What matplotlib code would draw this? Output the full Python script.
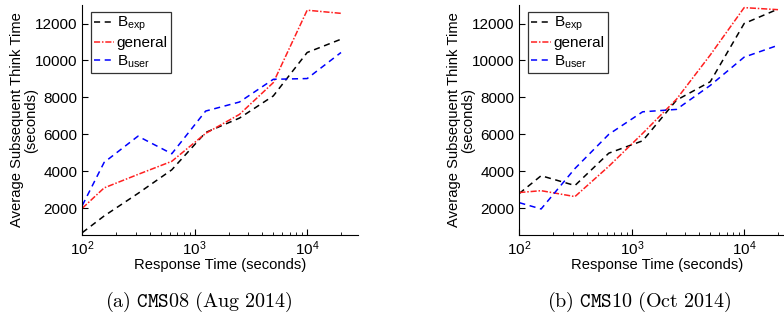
import numpy as np
import matplotlib
matplotlib.use('Agg')
import matplotlib.pyplot as plt

plt.rcParams['font.family'] = ['Liberation Sans', 'DejaVu Sans']
plt.rcParams['mathtext.fontset'] = 'custom'
plt.rcParams['mathtext.rm'] = 'Liberation Sans'
plt.rcParams['mathtext.default'] = 'regular'

# Response time bins (seconds)
resp = [100, 156.25, 312.5, 625, 1250, 2500, 5000, 10000, 20000]

# CMS08 (Aug 2014)
cms08_exp = [680, 1580, 2800, 4080, 6100, 6880, 8080, 10430, 11150]
cms08_gen = [2000, 3100, 3830, 4540, 6050, 7080, 8800, 12720, 12550]
cms08_user = [2150, 4480, 5900, 4950, 7260, 7750, 8980, 9020, 10430]

# CMS10 (Oct 2014)
cms10_exp = [2800, 3760, 3230, 4980, 5650, 7850, 8850, 12000, 12780]
cms10_gen = [2850, 2950, 2630, 4270, 6050, 7900, 10300, 12860, 12750]
cms10_user = [2300, 1960, 4150, 6000, 7220, 7350, 8650, 10180, 10820]

captions = [r'$\mathrm{(a)\ }\mathtt{CMS08}\mathrm{\ (Aug\ 2014)}$',
            r'$\mathrm{(b)\ }\mathtt{CMS10}\mathrm{\ (Oct\ 2014)}$']

fs = 11
lfs = 10.6

fig = plt.figure(figsize=(7.84, 3.23), dpi=100)
ax1 = fig.add_axes([0.105, 0.2724, 0.352, 0.712])
ax2 = fig.add_axes([0.6624, 0.2724, 0.352, 0.712])

for ax, e, g, u in [(ax1, cms08_exp, cms08_gen, cms08_user),
                    (ax2, cms10_exp, cms10_gen, cms10_user)]:
    ax.plot(resp, e, color='k', ls=(0, (4, 3)), lw=1.1, label=r'B$_{exp}$')
    ax.plot(resp, g, color='#ff2020', ls=(0, (4, 1.2, 1, 1.2)), lw=1.1, label='general')
    ax.plot(resp, u, color='b', ls=(0, (4, 3)), lw=1.1, label=r'B$_{user}$')
    ax.set_xscale('log')
    ax.set_xlim(100, 28500)
    ax.set_ylim(550, 13000)
    ax.set_yticks([2000, 4000, 6000, 8000, 10000, 12000])
    ax.spines['top'].set_visible(False)
    ax.spines['right'].set_visible(False)
    ax.tick_params(direction='in', labelsize=fs, which='both')
    ax.tick_params(which='major', length=4)
    ax.tick_params(which='minor', length=2)
    ax.set_xlabel('Response Time (seconds)', fontsize=lfs, labelpad=0)
    ax.set_ylabel('Average Subsequent Think Time\n(seconds)', fontsize=lfs,
                  linespacing=1.05)
    ax.yaxis.set_label_coords(-0.16, 0.5)
    leg = ax.legend(loc='upper left', bbox_to_anchor=(0.03, 0.97), fontsize=fs,
                    handlelength=1.35, handletextpad=0.15, labelspacing=0.2,
                    borderpad=0.2, fancybox=False, framealpha=1, borderaxespad=0)
    leg.get_frame().set_edgecolor('#333333')
    leg.get_frame().set_linewidth(0.9)

fig.text(0.254, 0.066, captions[0], fontsize=14.5, ha='center', va='center',
         math_fontfamily='cm')
fig.text(0.815, 0.066, captions[1], fontsize=14.5, ha='center', va='center',
         math_fontfamily='cm')

fig.savefig('out.png', dpi=100)
